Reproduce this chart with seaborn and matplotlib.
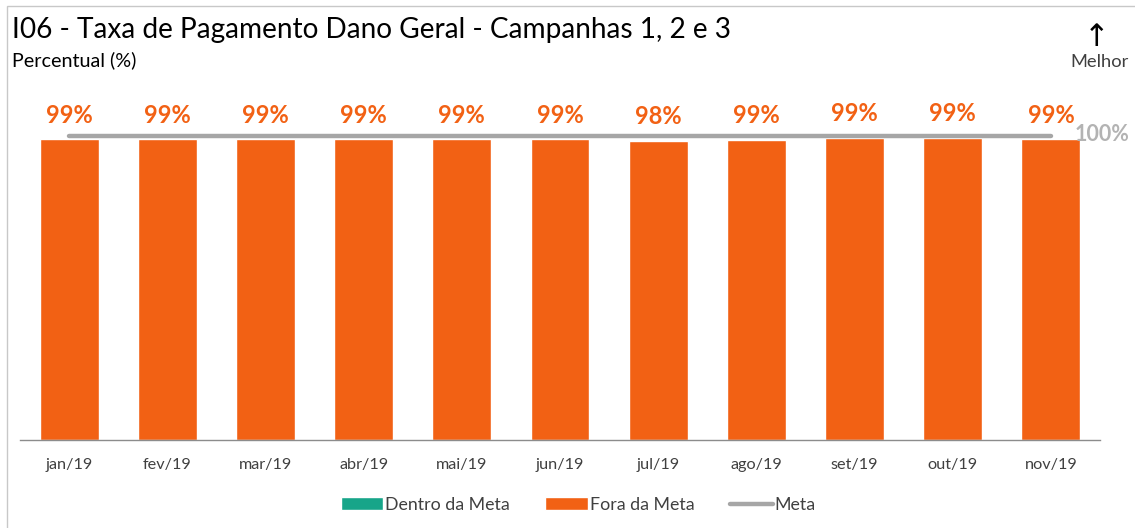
import matplotlib
matplotlib.use("Agg")
import matplotlib.pyplot as plt
import seaborn as sns
import pandas as pd
from matplotlib.patches import Patch, Rectangle
from matplotlib.lines import Line2D

# data
meses = ["jan/19", "fev/19", "mar/19", "abr/19", "mai/19", "jun/19",
         "jul/19", "ago/19", "set/19", "out/19", "nov/19"]
taxa = [99.0, 99.0, 99.0, 99.0, 99.0, 99.0, 98.4, 98.7, 99.4, 99.4, 99.0]
rotulos = ["99%", "99%", "99%", "99%", "99%", "99%", "98%", "99%", "99%", "99%", "99%"]
meta = [100.0] * len(meses)

LARANJA = "#f26114"
VERDE = "#17a589"
CINZA = "#a6a6a6"
TEXTO = "#404040"

sns.set_style("white")
plt.rcParams["font.family"] = ["Lato", "DejaVu Sans"]

df = pd.DataFrame({"mes": meses, "taxa": taxa, "meta": meta})

fig = plt.figure(figsize=(11.35, 5.28), dpi=100)
ax = fig.add_axes([20 / 1135, 88 / 528, 1080 / 1135, 328 / 528])

sns.barplot(data=df, x="mes", y="taxa", color=LARANJA, width=0.6,
            saturation=1, ax=ax)
sns.lineplot(data=df, x="mes", y="meta", color=CINZA, linewidth=3.2,
             ax=ax, legend=False)

ax.set_xlim(-0.5, len(meses) - 0.5)
ax.set_ylim(0, 100 * 328 / 304)
ax.set_xlabel("")
ax.set_ylabel("")
ax.set_yticks([])
for s in ["top", "right", "left"]:
    ax.spines[s].set_visible(False)
ax.spines["bottom"].set_color("#8c8c8c")
ax.spines["bottom"].set_linewidth(1.0)

# tick marks between categories, labels at centers
ax.set_xticks(range(len(meses)))
ax.set_xticklabels(meses, fontsize=11.7, color=TEXTO)
ax.tick_params(axis="x", which="major", length=0, pad=13)
ax.set_xticks([i - 0.5 for i in range(len(meses) + 1)], minor=True)
ax.tick_params(axis="x", which="minor", length=5, color="#8c8c8c", direction="out")

# data labels
for i, (v, r) in enumerate(zip(taxa, rotulos)):
    ax.annotate(r, (i, v), xytext=(0, 9), textcoords="offset points",
                ha="center", va="bottom", fontsize=17, fontweight="bold",
                color=LARANJA, annotation_clip=False)

ax.annotate("100%", (len(meses) - 1, 100), xytext=(17, 1),
            textcoords="offset points", ha="left", va="center",
            fontsize=15.5, fontweight="bold", color="#b3b3b3",
            annotation_clip=False)

# titles
fig.text(12 / 1135, 1 - 30 / 528, "I06 - Taxa de Pagamento Dano Geral - Campanhas 1, 2 e 3",
         fontsize=20.2, color="black", va="center", ha="left")
fig.text(12 / 1135, 1 - 60 / 528, "Percentual (%)", fontsize=14.2,
         color="black", va="center", ha="left")
fig.text(1097 / 1135, 1 - 37 / 528, "\u2191", fontsize=22, color="black",
         va="center", ha="center", family="DejaVu Sans")
fig.text(1099 / 1135, 1 - 62 / 528, "Melhor", fontsize=13.2, color=TEXTO,
         va="center", ha="center")

# legend
handles = [Patch(facecolor=VERDE, label="Dentro da Meta"),
           Patch(facecolor=LARANJA, label="Fora da Meta"),
           Line2D([0], [0], color=CINZA, linewidth=3.2, label="Meta")]
fig.legend(handles=handles, loc="center", bbox_to_anchor=(578 / 1135, 1 - 505 / 528),
           ncol=3, frameon=False, fontsize=12.8, handlelength=2.4,
           handleheight=0.75, handletextpad=0.1, columnspacing=2.0,
           labelcolor=TEXTO)

# outer frame
fig.patches.append(Rectangle((7 / 1135, -0.01), 1.02, 1 - 6 / 528 + 0.01,
                             transform=fig.transFigure, fill=False,
                             edgecolor="#c8c8c8", linewidth=1.0))

fig.savefig("out.png", dpi=100)
